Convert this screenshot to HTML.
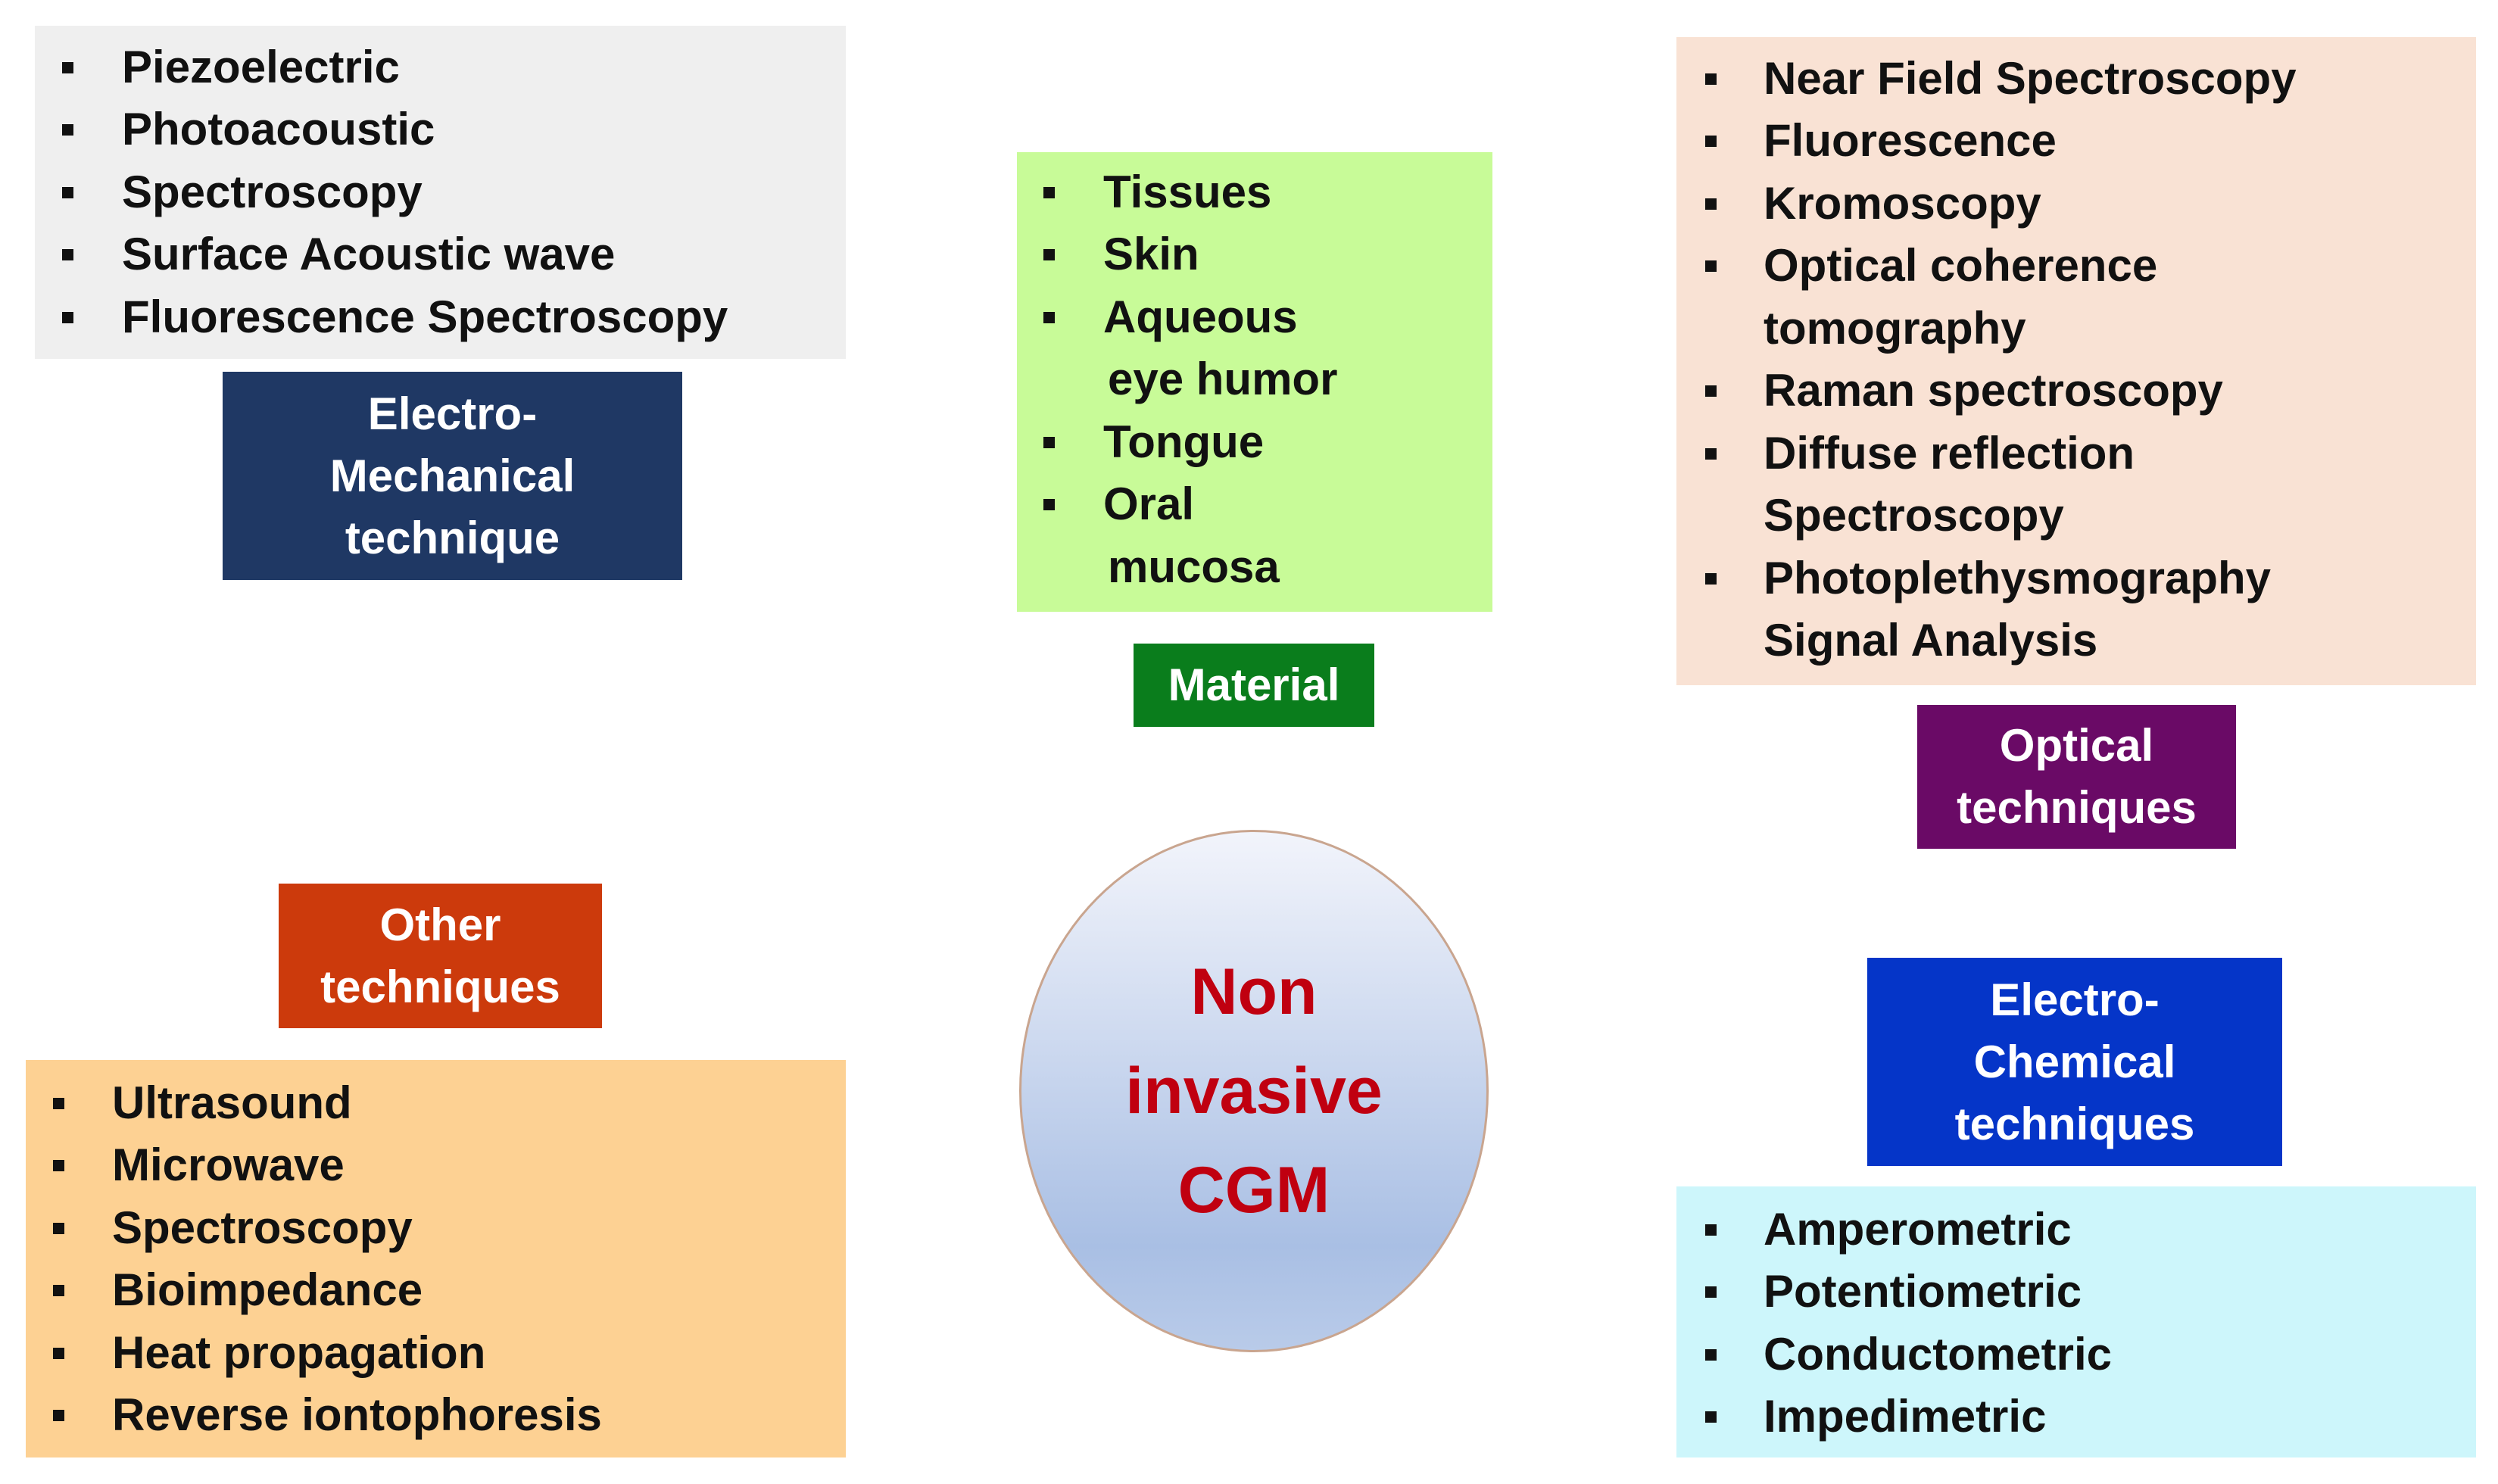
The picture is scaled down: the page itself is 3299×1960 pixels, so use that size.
<!DOCTYPE html>
<html><head><meta charset="utf-8"><style>
*{margin:0;padding:0;box-sizing:border-box}
body{width:3299px;height:1960px;background:#fff;position:relative;overflow:hidden;font-family:"Liberation Sans",Arial,sans-serif;font-weight:bold}
.b{position:absolute}
.l{position:absolute;font-size:60px;line-height:82px;color:#111;white-space:nowrap}
.lab{position:absolute;display:flex;align-items:center;justify-content:center;text-align:center;color:#fff;font-size:60px;line-height:82px}
.bl{position:absolute;width:15px;height:15px;background:#111}
</style></head><body>
<div class="b" style="left:46px;top:34px;width:1071px;height:440px;background:#efefef"></div>
<div class="lab" style="left:294px;top:491px;width:607px;height:275px;background:#1f3864">Electro-<br>Mechanical<br>technique</div>
<div class="b" style="left:1343px;top:201px;width:628px;height:607px;background:#c8fb98"></div>
<div class="lab" style="left:1497px;top:850px;width:318px;height:110px;background:#0a7d1c">Material</div>
<div class="b" style="left:2214px;top:49px;width:1056px;height:856px;background:#f9e2d4"></div>
<div class="lab" style="left:2532px;top:931px;width:421px;height:190px;background:#6a0a66">Optical<br>techniques</div>
<div class="lab" style="left:368px;top:1167px;width:427px;height:191px;background:#cc3a0c">Other<br>techniques</div>
<div class="b" style="left:34px;top:1400px;width:1083px;height:525px;background:#fdd193"></div>
<div class="lab" style="left:2466px;top:1265px;width:548px;height:275px;background:#0535c8">Electro-<br>Chemical<br>techniques</div>
<div class="b" style="left:2214px;top:1567px;width:1056px;height:358px;background:#cdf6fb"></div>
<div class="b" style="left:1346px;top:1096px;width:620px;height:690px;border-radius:50%;border:3px solid #c9a58f;background:linear-gradient(#f2f4fb,#a9bfe4 80%,#b9cbe9)"></div>
<div class="lab" style="left:1346px;top:1096px;width:620px;height:690px;color:#c00010;font-size:86px;line-height:131px">Non<br>invasive<br>CGM</div>

<!-- gray list -->
<div class="bl" style="left:82px;top:82px"></div><div class="l" style="left:161px;top:48px">Piezoelectric</div>
<div class="bl" style="left:82px;top:164px"></div><div class="l" style="left:161px;top:130px">Photoacoustic</div>
<div class="bl" style="left:82px;top:247px"></div><div class="l" style="left:161px;top:213px">Spectroscopy</div>
<div class="bl" style="left:82px;top:329px"></div><div class="l" style="left:161px;top:295px">Surface Acoustic wave</div>
<div class="bl" style="left:82px;top:412px"></div><div class="l" style="left:161px;top:378px">Fluorescence Spectroscopy</div>

<!-- green list -->
<div class="bl" style="left:1378px;top:247px"></div><div class="l" style="left:1457px;top:213px">Tissues</div>
<div class="bl" style="left:1378px;top:329px"></div><div class="l" style="left:1457px;top:295px">Skin</div>
<div class="bl" style="left:1378px;top:412px"></div><div class="l" style="left:1457px;top:378px">Aqueous</div>
<div class="l" style="left:1463px;top:460px">eye humor</div>
<div class="bl" style="left:1378px;top:577px"></div><div class="l" style="left:1457px;top:543px">Tongue</div>
<div class="bl" style="left:1378px;top:659px"></div><div class="l" style="left:1457px;top:625px">Oral</div>
<div class="l" style="left:1463px;top:708px">mucosa</div>

<!-- peach list -->
<div class="bl" style="left:2252px;top:97px"></div><div class="l" style="left:2329px;top:63px">Near Field Spectroscopy</div>
<div class="bl" style="left:2252px;top:179px"></div><div class="l" style="left:2329px;top:145px">Fluorescence</div>
<div class="bl" style="left:2252px;top:262px"></div><div class="l" style="left:2329px;top:228px">Kromoscopy</div>
<div class="bl" style="left:2252px;top:344px"></div><div class="l" style="left:2329px;top:310px">Optical coherence</div>
<div class="l" style="left:2329px;top:393px">tomography</div>
<div class="bl" style="left:2252px;top:509px"></div><div class="l" style="left:2329px;top:475px">Raman spectroscopy</div>
<div class="bl" style="left:2252px;top:592px"></div><div class="l" style="left:2329px;top:558px">Diffuse reflection</div>
<div class="l" style="left:2329px;top:640px">Spectroscopy</div>
<div class="bl" style="left:2252px;top:757px"></div><div class="l" style="left:2329px;top:723px">Photoplethysmography</div>
<div class="l" style="left:2329px;top:805px">Signal Analysis</div>

<!-- orange list -->
<div class="bl" style="left:70px;top:1450px"></div><div class="l" style="left:148px;top:1416px">Ultrasound</div>
<div class="bl" style="left:70px;top:1532px"></div><div class="l" style="left:148px;top:1498px">Microwave</div>
<div class="bl" style="left:70px;top:1615px"></div><div class="l" style="left:148px;top:1581px">Spectroscopy</div>
<div class="bl" style="left:70px;top:1697px"></div><div class="l" style="left:148px;top:1663px">Bioimpedance</div>
<div class="bl" style="left:70px;top:1780px"></div><div class="l" style="left:148px;top:1746px">Heat propagation</div>
<div class="bl" style="left:70px;top:1862px"></div><div class="l" style="left:148px;top:1828px">Reverse iontophoresis</div>

<!-- cyan list -->
<div class="bl" style="left:2252px;top:1617px"></div><div class="l" style="left:2329px;top:1583px">Amperometric</div>
<div class="bl" style="left:2252px;top:1699px"></div><div class="l" style="left:2329px;top:1665px">Potentiometric</div>
<div class="bl" style="left:2252px;top:1782px"></div><div class="l" style="left:2329px;top:1748px">Conductometric</div>
<div class="bl" style="left:2252px;top:1864px"></div><div class="l" style="left:2329px;top:1830px">Impedimetric</div>
</body></html>
